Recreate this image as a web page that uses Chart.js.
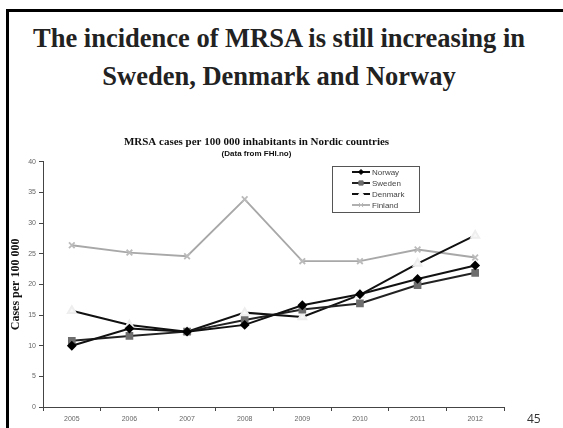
<!DOCTYPE html>
<html>
<head>
<meta charset="utf-8">
<script src="https://cdn.jsdelivr.net/npm/chart.js@4/dist/chart.umd.min.js"></script>
<style>
  html, body { margin: 0; padding: 0; background: #fff; }
  #slide { position: relative; width: 563px; height: 428px; overflow: hidden; background: #fff; }
  #frame-top { position: absolute; left: 6px; top: 9px; width: 557px; height: 3px; background: #000; }
  #frame-left { position: absolute; left: 6px; top: 9px; width: 3px; height: 419px; background: #000; }
  #heading {
    position: absolute; left: 0; top: 19px; width: 558px; text-align: center;
    font-family: "Liberation Serif", "Times New Roman", serif; font-weight: bold;
    font-size: 26.5px; line-height: 38px; color: #222;
  }
  #pagenum { position: absolute; left: 527px; top: 410px; font-family: "Open Sans", sans-serif; font-size: 12px; color: #333; }
  #chart-box { position: absolute; left: 0; top: 130px; width: 563px; height: 298px; }
</style>
</head>
<body>
<div id="slide">
  <div id="frame-top"></div>
  <div id="frame-left"></div>
  <div id="heading">The incidence of MRSA is still increasing in<br>Sweden, Denmark and Norway</div>
  <div id="chart-box"><canvas id="mrsa"></canvas></div>
  <div id="pagenum">45</div>
</div>
<script>
const years = ['2005', '2006', '2007', '2008', '2009', '2010', '2011', '2012'];
const norway = [10.0, 12.8, 12.3, 13.4, 16.6, 18.4, 20.9, 23.1];
const sweden = [10.8, 11.6, 12.3, 14.2, 15.9, 16.9, 19.9, 21.9];
const denmark = [15.7, 13.4, 12.3, 15.4, 14.7, 18.3, 23.4, 28.0];
const finland = [26.4, 25.2, 24.6, 33.9, 23.8, 23.8, 25.7, 24.4];
const yTicks = [0, 5, 10, 15, 20, 25, 30, 35, 40];

// legend box drawn inside the plot, like the spreadsheet chart
const boxLegend = {
  id: 'boxLegend',
  afterDraw(chart) {
    const ctx = chart.ctx;
    const x = 332, y = 36, w = 87, h = 46;
    ctx.save();
    ctx.fillStyle = '#fff';
    ctx.fillRect(x, y, w, h);
    ctx.strokeStyle = '#555';
    ctx.lineWidth = 1;
    ctx.strokeRect(x + 0.5, y + 0.5, w, h);
    ctx.font = '8px "Liberation Sans", Arial, sans-serif';
    ctx.textBaseline = 'middle';
    chart.data.datasets.forEach((ds, i) => {
      const ly = y + 6 + i * 11;
      ctx.strokeStyle = ds.borderColor;
      ctx.lineWidth = ds.borderWidth;
      ctx.beginPath();
      ctx.moveTo(x + 20, ly);
      ctx.lineTo(x + 38, ly);
      ctx.stroke();
      ctx.fillStyle = ds.pointBackgroundColor;
      ctx.strokeStyle = ds.pointBackgroundColor;
      ctx.lineWidth = 1;
      Chart.helpers.drawPoint(ctx, { pointStyle: ds.pointStyle, radius: ds.pointRadius - 1, rotation: 0, borderWidth: 1 }, x + 29, ly);
      ctx.fillStyle = '#444';
      ctx.fillText(ds.label, x + 40, ly + 0.5);
    });
    ctx.restore();
  }
};

new Chart(document.getElementById('mrsa'), {
  type: 'line',
  data: {
    labels: years,
    datasets: [
      {
        label: 'Norway', data: norway,
        borderColor: '#111', borderWidth: 2,
        pointStyle: 'rectRot', pointRadius: 3.5,
        pointBackgroundColor: '#000', pointBorderColor: '#000'
      },
      {
        label: 'Sweden', data: sweden,
        borderColor: '#222', borderWidth: 2,
        pointStyle: 'rect', pointRadius: 4,
        pointBackgroundColor: '#6e6e6e', pointBorderColor: '#6e6e6e'
      },
      {
        label: 'Denmark', data: denmark,
        borderColor: '#111', borderWidth: 2,
        pointStyle: 'triangle', pointRadius: 4.5,
        pointBackgroundColor: '#f8f8f8', pointBorderColor: '#eeeeee'
      },
      {
        label: 'Finland', data: finland,
        borderColor: '#a8a8a8', borderWidth: 1.8,
        pointStyle: 'crossRot', pointRadius: 4,
        pointBackgroundColor: '#bbb', pointBorderColor: '#bbb'
      }
    ]
  },
  options: {
    responsive: true,
    maintainAspectRatio: false,
    animation: false,
    layout: { padding: { left: 9, right: 59, top: 0, bottom: 0 } },
    plugins: {
      legend: { display: false },
      tooltip: { enabled: false },
      title: {
        display: true,
        text: 'MRSA cases per 100 000 inhabitants in Nordic countries',
        color: '#111',
        font: { family: '"Liberation Serif", "Times New Roman", serif', size: 11, weight: 'bold', lineHeight: 1.1 },
        padding: { top: 6, bottom: 0 }
      },
      subtitle: {
        display: true,
        text: '(Data from FHI.no)',
        color: '#111',
        font: { family: '"Liberation Sans", Arial, sans-serif', size: 8, weight: 'bold', lineHeight: 1.1 },
        padding: { top: 1, bottom: 4 }
      }
    },
    scales: {
      x: {
        offset: true,
        grid: { drawOnChartArea: false, offset: true, tickLength: 4, color: '#444' },
        border: { color: '#444' },
        ticks: { color: '#666', font: { family: '"Liberation Sans", Arial, sans-serif', size: 7 }, padding: 4, maxRotation: 0 },
        afterFit(scale) { scale.height = 21; }
      },
      y: {
        min: 0, max: 40,
        afterBuildTicks(scale) { scale.ticks = yTicks.map(v => ({ value: v })); },
        grid: { drawOnChartArea: false, tickLength: 4, color: '#444' },
        border: { color: '#444' },
        ticks: { color: '#666', font: { family: '"Liberation Sans", Arial, sans-serif', size: 7 }, padding: 3 },
        title: {
          display: true,
          text: 'Cases per 100 000',
          color: '#111',
          font: { family: '"Liberation Serif", "Times New Roman", serif', size: 12, weight: 'bold' },
          padding: 0
        },
        afterFit(scale) { scale.width = 34; }
      }
    }
  },
  plugins: [boxLegend]
});
</script>
</body>
</html>
